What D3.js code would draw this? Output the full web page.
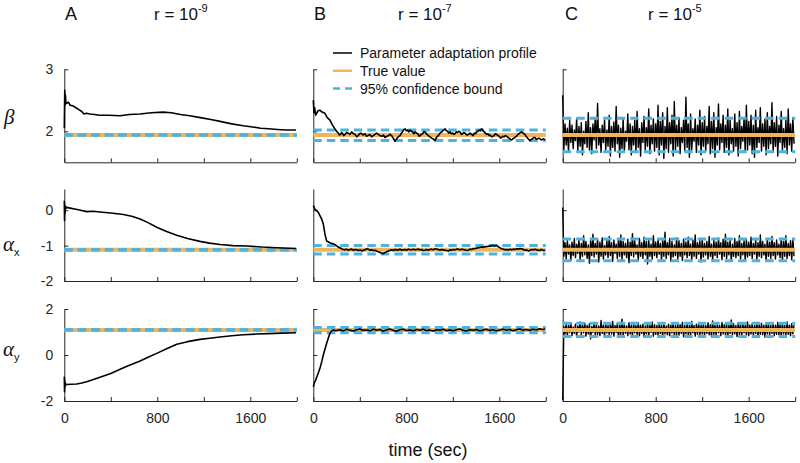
<!DOCTYPE html>
<html>
<head>
<meta charset="utf-8">
<script src="https://cdn.jsdelivr.net/npm/d3@7"></script>
<style>
  body { margin: 0; background: #fff; }
  svg { display: block; }
</style>
</head>
<body>
<div id="chart"></div>
<script>
// ---- data ----
const panelLetters = ['A', 'B', 'C'];
const rExponents = ['-9', '-7', '-5'];
const timeTicks = [0, 400, 800, 1200, 1600, 2000];
const timeLabelled = [0, 800, 1600];

const yDomains = [[1.5, 3], [-2, 0.6], [-2, 2]];
const yTicks = [[2, 3], [-2, -1, 0], [-2, 0, 2]];

const trueValues = [1.94, -1.12, 1.09];
// [lower, upper] 95% bound per column A, B, C
const boundsBeta = [[1.935, 1.945], [1.85, 2.02], [1.67, 2.21]];
const boundsAlphaX = [[-1.125, -1.115], [-1.24, -1.0], [-1.43, -0.81]];
const boundsAlphaY = [[1.085, 1.095], [0.97, 1.20], [0.80, 1.38]];

// column A, r = 1e-9  ([time, value])
const profileA_beta = [[0,2.05],[2,2.40],[4,2.66],[7,2.42],[10,2.58],[14,2.46],[20,2.45],[35,2.47],[50,2.42],[75,2.41],[100,2.38],[125,2.35],[150,2.32],[170,2.28],[190,2.29],[220,2.28],[260,2.27],[300,2.26],[380,2.26],[480,2.25],[560,2.27],[650,2.28],[750,2.30],[850,2.31],[920,2.30],[1000,2.27],[1080,2.25],[1170,2.22],[1260,2.19],[1340,2.16],[1440,2.12],[1540,2.09],[1620,2.07],[1690,2.05],[1760,2.04],[1830,2.03],[1910,2.02],[1993,2.02]];
const profileA_alphaX = [[0,0.27],[2,-0.29],[4,0.15],[6,-0.10],[9,0.12],[14,0.05],[20,0.08],[50,0.06],[100,0.03],[150,-0.01],[193,-0.04],[250,-0.03],[307,-0.05],[400,-0.08],[508,-0.12],[580,-0.17],[652,-0.25],[720,-0.35],[795,-0.48],[880,-0.60],[967,-0.71],[1060,-0.80],[1167,-0.88],[1250,-0.93],[1340,-0.97],[1450,-1.00],[1570,-1.01],[1700,-1.04],[1827,-1.06],[1993,-1.08]];
const profileA_alphaY = [[0,-0.94],[2,-1.60],[4,-1.10],[6,-1.40],[9,-1.22],[14,-1.30],[20,-1.28],[60,-1.27],[106,-1.26],[150,-1.22],[193,-1.16],[250,-1.07],[307,-0.97],[400,-0.80],[480,-0.62],[560,-0.45],[652,-0.26],[720,-0.10],[795,0.07],[880,0.27],[967,0.47],[1060,0.58],[1167,0.68],[1250,0.73],[1340,0.78],[1440,0.84],[1540,0.88],[1650,0.91],[1750,0.93],[1870,0.95],[1993,0.97]];

// column B, r = 1e-7
const profileB_beta = [[0,2.50],[6,2.30],[12,2.38],[20,2.26],[29,2.29],[40,2.33],[57,2.34],[75,2.31],[100,2.29],[120,2.22],[143,2.18],[165,2.10],[186,2.04],[200,2.00],[215,1.97],[225,1.94],[235,1.95],[243,1.98],[250,1.97],[262,1.93],[273,1.95],[286,1.98],[300,1.97],[315,1.95],[330,1.99],[345,1.96],[360,1.95],[373,1.91],[387,1.93],[398,1.96],[410,1.97],[428,1.94],[445,1.96],[458,1.92],[470,1.93],[486,1.95],[502,1.91],[516,1.93],[530,1.95],[545,1.97],[559,1.95],[575,1.93],[590,1.92],[603,1.94],[617,1.90],[632,1.92],[645,1.93],[660,1.95],[674,1.93],[690,1.88],[703,1.84],[714,1.87],[725,1.90],[736,1.92],[746,1.93],[758,1.97],[770,2.00],[780,2.03],[789,2.04],[800,2.01],[810,2.02],[822,1.99],[832,2.02],[845,2.00],[855,1.99],[865,1.96],[875,1.99],[888,1.97],[900,1.96],[910,1.92],[918,1.93],[930,1.95],[940,1.96],[950,1.99],[961,1.99],[973,1.96],[985,1.94],[995,1.92],[1004,1.91],[1018,1.89],[1030,1.88],[1040,1.86],[1047,1.85],[1054,1.88],[1060,1.90],[1068,1.92],[1076,1.93],[1090,1.97],[1105,1.99],[1120,2.02],[1133,2.04],[1145,2.01],[1155,2.00],[1165,1.97],[1176,1.99],[1188,1.96],[1200,1.97],[1210,1.95],[1219,1.96],[1230,1.99],[1240,1.98],[1250,2.00],[1262,1.99],[1274,1.95],[1285,1.96],[1295,1.98],[1305,1.97],[1320,1.94],[1335,1.95],[1348,1.97],[1362,1.95],[1374,1.93],[1385,1.97],[1395,1.96],[1405,1.99],[1415,2.00],[1425,2.02],[1437,2.01],[1448,2.04],[1460,2.01],[1470,1.99],[1480,1.97],[1491,1.95],[1502,1.96],[1512,1.93],[1522,1.94],[1534,1.91],[1545,1.92],[1555,1.93],[1566,1.96],[1577,1.95],[1588,1.93],[1600,1.92],[1610,1.89],[1620,1.90],[1630,1.92],[1640,1.91],[1652,1.93],[1663,1.92],[1674,1.90],[1685,1.89],[1696,1.87],[1706,1.86],[1717,1.88],[1728,1.89],[1738,1.91],[1749,1.92],[1760,1.95],[1770,1.96],[1781,1.98],[1792,1.99],[1805,1.97],[1813,1.96],[1821,1.95],[1830,1.92],[1840,1.90],[1852,1.87],[1864,1.85],[1875,1.87],[1885,1.88],[1896,1.90],[1907,1.90],[1918,1.87],[1930,1.88],[1940,1.89],[1950,1.88],[1960,1.86],[1970,1.87],[1982,1.88],[1993,1.86]];
const profileB_alphaX = [[0,0.13],[14,0.03],[29,-0.01],[43,-0.06],[57,-0.15],[72,-0.25],[86,-0.39],[100,-0.67],[115,-0.87],[143,-0.92],[186,-0.97],[215,-1.04],[244,-1.09],[258,-1.11],[270,-1.12],[285,-1.10],[301,-1.13],[315,-1.11],[330,-1.10],[345,-1.13],[359,-1.11],[375,-1.12],[390,-1.14],[403,-1.12],[416,-1.15],[430,-1.13],[445,-1.12],[460,-1.09],[473,-1.10],[487,-1.13],[500,-1.12],[515,-1.14],[531,-1.13],[548,-1.16],[565,-1.18],[585,-1.21],[602,-1.23],[614,-1.20],[625,-1.19],[635,-1.16],[645,-1.15],[660,-1.13],[675,-1.12],[690,-1.14],[703,-1.11],[716,-1.12],[730,-1.13],[745,-1.10],[760,-1.13],[775,-1.12],[790,-1.11],[803,-1.13],[817,-1.10],[830,-1.11],[845,-1.12],[860,-1.10],[875,-1.12],[890,-1.11],[905,-1.10],[918,-1.12],[932,-1.11],[946,-1.14],[960,-1.13],[975,-1.11],[989,-1.13],[1003,-1.11],[1018,-1.10],[1032,-1.12],[1047,-1.09],[1060,-1.10],[1075,-1.11],[1090,-1.13],[1104,-1.11],[1118,-1.12],[1133,-1.13],[1148,-1.14],[1162,-1.15],[1176,-1.12],[1190,-1.13],[1205,-1.11],[1219,-1.12],[1233,-1.10],[1248,-1.10],[1262,-1.12],[1276,-1.10],[1290,-1.11],[1305,-1.12],[1320,-1.14],[1333,-1.13],[1348,-1.10],[1362,-1.11],[1376,-1.08],[1391,-1.09],[1405,-1.07],[1420,-1.06],[1434,-1.05],[1448,-1.04],[1460,-1.05],[1470,-1.03],[1480,-1.04],[1491,-1.02],[1502,-1.03],[1512,-1.01],[1523,-1.02],[1534,-1.00],[1545,-0.99],[1555,-1.01],[1566,-1.00],[1577,-0.99],[1588,-1.02],[1600,-1.05],[1610,-1.07],[1620,-1.09],[1635,-1.10],[1650,-1.12],[1663,-1.11],[1677,-1.13],[1690,-1.10],[1705,-1.12],[1720,-1.10],[1735,-1.11],[1750,-1.09],[1765,-1.10],[1778,-1.08],[1792,-1.09],[1806,-1.11],[1820,-1.13],[1835,-1.12],[1849,-1.15],[1865,-1.13],[1880,-1.11],[1893,-1.12],[1907,-1.10],[1918,-1.12],[1930,-1.12],[1940,-1.14],[1950,-1.13],[1960,-1.11],[1970,-1.12],[1982,-1.14],[1993,-1.13]];
const profileB_alphaY = [[0,-1.38],[10,-1.20],[20,-1.10],[29,-0.97],[43,-0.78],[57,-0.58],[72,-0.30],[86,0.00],[100,0.25],[115,0.51],[130,0.75],[143,0.94],[158,1.05],[172,1.09],[186,1.07],[200,1.06],[215,1.09],[229,1.10],[243,1.07],[258,1.05],[272,1.08],[287,1.12],[300,1.10],[315,1.08],[330,1.06],[344,1.04],[358,1.07],[372,1.10],[386,1.11],[400,1.13],[415,1.10],[430,1.07],[445,1.08],[459,1.09],[473,1.07],[488,1.05],[502,1.09],[516,1.12],[530,1.10],[545,1.08],[560,1.10],[573,1.11],[588,1.07],[602,1.04],[616,1.07],[630,1.09],[645,1.11],[659,1.13],[673,1.10],[688,1.07],[702,1.05],[716,1.03],[730,1.07],[745,1.10],[760,1.11],[774,1.12],[788,1.09],[802,1.06],[816,1.08],[831,1.09],[845,1.07],[860,1.05],[874,1.08],[888,1.11],[902,1.10],[917,1.08],[931,1.10],[946,1.12],[960,1.09],[974,1.06],[989,1.08],[1003,1.09],[1017,1.06],[1032,1.04],[1046,1.07],[1060,1.10],[1075,1.09],[1089,1.08],[1103,1.10],[1118,1.12],[1132,1.09],[1146,1.06],[1160,1.08],[1175,1.09],[1190,1.07],[1204,1.05],[1218,1.08],[1232,1.10],[1246,1.12],[1261,1.13],[1275,1.10],[1290,1.08],[1304,1.06],[1318,1.05],[1332,1.08],[1347,1.10],[1361,1.09],[1376,1.07],[1390,1.09],[1404,1.11],[1418,1.08],[1433,1.06],[1447,1.07],[1462,1.09],[1476,1.11],[1490,1.12],[1505,1.09],[1519,1.07],[1533,1.09],[1548,1.10],[1562,1.07],[1576,1.05],[1590,1.07],[1605,1.09],[1620,1.11],[1634,1.12],[1648,1.10],[1662,1.08],[1676,1.10],[1691,1.11],[1705,1.08],[1720,1.06],[1734,1.08],[1748,1.10],[1762,1.12],[1777,1.13],[1791,1.10],[1806,1.08],[1820,1.10],[1834,1.11],[1848,1.09],[1863,1.07],[1877,1.10],[1892,1.12],[1906,1.10],[1920,1.09],[1935,1.12],[1949,1.14],[1963,1.12],[1978,1.11],[1993,1.13]];

// column C, r = 1e-5: one sample every stepC seconds
const stepC = 10;
const profileC_beta = [
  2.58,1.70,2.12,1.78,2.05,1.66,2.18,1.82,2.10,1.72,2.02,1.85,2.20,1.68,2.08,1.76,2.14,1.62,2.00,1.80,
  2.16,1.74,2.30,1.70,2.06,1.64,2.12,1.86,2.22,1.72,2.45,1.78,2.04,1.66,2.10,1.82,2.18,1.70,2.02,1.76,
  2.26,1.60,2.08,1.74,2.15,1.68,2.40,1.80,2.10,1.58,2.05,1.72,2.20,1.66,2.00,1.84,2.28,1.70,2.12,1.62,
  2.08,1.78,2.18,1.66,2.32,1.74,2.04,1.60,2.14,1.82,2.24,1.70,2.06,1.76,2.36,1.64,2.10,1.80,2.20,1.68,
  2.12,1.74,2.42,1.62,2.16,1.78,2.30,1.56,2.08,1.72,2.38,1.66,2.14,1.80,2.26,1.60,2.48,1.70,2.10,1.76,
  2.22,1.64,2.06,1.82,2.18,1.68,2.55,1.74,2.12,1.58,2.28,1.70,2.04,1.84,2.20,1.66,2.10,1.78,2.34,1.62,
  2.14,1.76,2.24,1.68,2.08,1.80,2.40,1.64,2.16,1.72,2.30,1.58,2.06,1.78,2.44,1.70,2.12,1.82,2.26,1.66,
  2.10,1.74,2.36,1.62,2.18,1.80,2.04,1.68,2.28,1.76,2.14,1.60,2.32,1.72,2.08,1.84,2.22,1.66,2.42,1.70,
  2.16,1.78,2.26,1.64,2.10,1.58,2.34,1.74,2.06,1.82,2.38,1.68,2.12,1.76,2.20,1.62,2.30,1.72,2.08,1.80,
  2.46,1.66,2.14,1.76,2.24,1.60,2.10,1.82,2.32,1.70,2.04,1.74,2.18,1.64,2.36,1.78,2.12,1.68,2.22,1.80
];
const profileC_alphaX = [
  0.08,-1.30,-0.92,-1.38,-0.86,-1.24,-0.98,-1.42,-0.90,-1.28,-0.80,-1.34,-0.96,-1.22,-0.84,-1.40,-0.94,-1.30,-0.72,-1.26,
  -0.88,-1.36,-0.98,-1.50,-0.86,-1.28,-0.68,-1.32,-0.94,-1.24,-0.82,-1.46,-0.90,-1.30,-0.78,-1.38,-1.00,-1.26,-0.86,-1.34,
  -0.74,-1.28,-0.92,-1.44,-0.84,-1.22,-0.96,-1.36,-0.80,-1.30,-0.70,-1.40,-0.88,-1.26,-0.94,-1.34,-0.82,-1.48,-0.90,-1.28,
  -0.66,-1.32,-0.86,-1.24,-0.98,-1.42,-0.80,-1.30,-0.92,-1.36,-0.76,-1.26,-0.88,-1.52,-0.84,-1.30,-0.96,-1.38,-0.72,-1.28,
  -0.90,-1.34,-0.82,-1.24,-0.94,-1.40,-0.86,-1.30,-0.62,-1.36,-0.92,-1.26,-0.80,-1.44,-0.88,-1.32,-0.98,-1.28,-0.78,-1.38,
  -0.86,-1.30,-0.94,-1.42,-0.82,-1.26,-0.90,-1.34,-0.76,-1.28,-0.96,-1.40,-0.84,-1.30,-0.70,-1.36,-0.92,-1.24,-0.86,-1.46,
  -0.80,-1.32,-0.94,-1.26,-0.88,-1.38,-0.74,-1.30,-0.96,-1.42,-0.84,-1.28,-0.90,-1.34,-0.78,-1.24,-0.92,-1.40,-0.82,-1.30,
  -0.68,-1.36,-0.90,-1.26,-0.84,-1.44,-0.96,-1.30,-0.80,-1.34,-0.88,-1.28,-0.72,-1.38,-0.94,-1.26,-0.86,-1.42,-0.82,-1.32,
  -0.90,-1.28,-0.76,-1.36,-0.94,-1.24,-0.84,-1.40,-0.92,-1.30,-0.70,-1.34,-0.88,-1.26,-0.96,-1.44,-0.80,-1.30,-0.90,-1.36,
  -0.74,-1.28,-0.92,-1.38,-0.84,-1.26,-0.96,-1.34,-0.80,-1.42,-0.88,-1.30,-0.72,-1.36,-0.94,-1.28,-0.86,-1.40,-0.82,-1.30
];
const profileC_alphaY = [
  -1.95,1.24,0.92,1.36,0.86,1.28,0.98,1.40,0.84,1.22,0.94,1.34,0.80,1.26,1.00,1.44,0.88,1.30,0.96,1.38,
  0.82,1.28,0.92,1.36,0.70,1.24,0.98,1.42,0.86,1.32,0.90,1.26,0.84,1.50,0.94,1.30,0.80,1.36,0.96,1.28,
  0.88,1.34,0.92,1.46,0.82,1.28,0.98,1.38,0.76,1.30,0.90,1.56,0.86,1.32,0.94,1.26,0.84,1.40,0.92,1.30,
  0.80,1.36,0.96,1.28,0.88,1.42,0.84,1.30,0.94,1.34,0.78,1.26,0.92,1.38,0.86,1.30,0.98,1.44,0.82,1.32,
  0.90,1.28,0.86,1.36,0.94,1.30,0.80,1.40,0.92,1.26,0.88,1.34,0.84,1.30,0.96,1.38,0.82,1.28,0.90,1.36,
  0.86,1.32,0.94,1.42,0.80,1.28,0.92,1.36,0.88,1.30,0.84,1.46,0.96,1.28,0.82,1.34,0.90,1.38,0.86,1.30,
  0.92,1.36,0.84,1.28,0.94,1.40,0.88,1.32,0.80,1.48,0.90,1.30,0.86,1.36,0.96,1.28,0.84,1.42,0.92,1.32,
  0.88,1.34,0.82,1.30,0.94,1.52,0.86,1.36,0.92,1.28,0.80,1.40,0.90,1.32,0.84,1.36,0.96,1.30,0.88,1.44,
  0.84,1.30,0.92,1.36,0.86,1.28,0.94,1.42,0.82,1.32,0.90,1.38,0.88,1.30,0.78,1.34,0.92,1.40,0.86,1.28,
  0.94,1.36,0.84,1.30,0.90,1.42,0.88,1.32,0.82,1.38,0.92,1.28,0.86,1.44,0.90,1.30,0.84,1.36,0.92,1.30
];

const legendLabels = ['Parameter adaptation profile', 'True value', '95% confidence bound'];

// ---- layout ----
const width = 800, height = 463;
const colLeft = [64.3, 313.3, 562.7];
const plotW = 232.5;
const rowTop = [69.3, 189, 309];
const rowBottom = [162.3, 281, 401];

const black = '#000', orange = '#f2b45a', blue = '#4db3dc', axisColor = '#262626';
const sans = '"Liberation Sans", Arial, Helvetica, sans-serif';
const serif = '"Liberation Serif", "Times New Roman", serif';

const svg = d3.select('#chart').append('svg')
    .attr('width', width)
    .attr('height', height)
    .style('font-family', sans);

const toPairs = vals => vals.map((v, i) => [i * stepC, v]);
const profiles = [
    [profileA_beta, profileB_beta, toPairs(profileC_beta)],
    [profileA_alphaX, profileB_alphaX, toPairs(profileC_alphaX)],
    [profileA_alphaY, profileB_alphaY, toPairs(profileC_alphaY)]
];
const bounds = [boundsBeta, boundsAlphaX, boundsAlphaY];

function drawPanel(ci, ri) {
    const x = d3.scaleLinear().domain([0, 2000]).range([colLeft[ci], colLeft[ci] + plotW]);
    const y = d3.scaleLinear().domain(yDomains[ri]).range([rowBottom[ri], rowTop[ri]]);
    const g = svg.append('g');

    const xAxis = d3.axisBottom(x)
        .tickValues(timeTicks)
        .tickSize(-4)
        .tickSizeOuter(0)
        .tickPadding(12)
        .tickFormat(d => (ri === 2 && timeLabelled.includes(d)) ? String(d) : '');
    const yAxis = d3.axisLeft(y)
        .tickValues(yTicks[ri])
        .tickSize(-4)
        .tickSizeOuter(0)
        .tickPadding(11)
        .tickFormat(d => ci === 0 ? String(d) : '');

    [g.append('g').attr('transform', `translate(0,${rowBottom[ri]})`).call(xAxis),
     g.append('g').attr('transform', `translate(${colLeft[ci]},0)`).call(yAxis)]
        .forEach(a => {
            a.attr('font-family', sans).attr('font-size', 14);
            a.selectAll('path, line').attr('stroke', axisColor).attr('stroke-width', 1);
            a.selectAll('text').attr('fill', axisColor);
        });

    const line = d3.line().x(d => x(d[0])).y(d => y(d[1]));
    const flat = v => [[0, v], [2000, v]];

    const drawTrue = () => g.append('path').attr('d', line(flat(trueValues[ri])))
        .attr('fill', 'none').attr('stroke', orange).attr('stroke-width', 4);
    const drawBounds = () => bounds[ri][ci].forEach(b => g.append('path').attr('d', line(flat(b)))
        .attr('fill', 'none').attr('stroke', blue).attr('stroke-width', 3)
        .attr('stroke-dasharray', '8.5,5'));
    const drawProfile = () => g.append('path').attr('d', line(profiles[ri][ci]))
        .attr('fill', 'none').attr('stroke', black)
        .attr('stroke-width', ci === 2 ? 1.4 : 1.6).attr('stroke-linejoin', 'round');

    if (ci === 2) { drawProfile(); drawTrue(); drawBounds(); }
    else { drawTrue(); drawBounds(); drawProfile(); }
}

for (let ri = 0; ri < 3; ri++) {
    for (let ci = 0; ci < 3; ci++) drawPanel(ci, ri);
}

// column titles
const titleX = [[65, 154], [314, 398], [565, 648]];
panelLetters.forEach((letter, ci) => {
    svg.append('text').attr('x', titleX[ci][0]).attr('y', 20)
        .attr('font-size', 18).attr('fill', '#111').text(letter);
    const t = svg.append('text').attr('x', titleX[ci][1]).attr('y', 20)
        .attr('font-size', 17).attr('fill', '#111');
    t.append('tspan').text('r = 10');
    t.append('tspan').attr('dy', -8).attr('font-size', 11).text(rExponents[ci]);
});

// row labels
svg.append('text').attr('x', 4).attr('y', 124)
    .attr('font-family', serif).attr('font-style', 'italic').attr('font-size', 21)
    .attr('fill', '#111').text('β');
[['x', 251], ['y', 356]].forEach(([sub, yy]) => {
    const t = svg.append('text').attr('x', 3).attr('y', yy)
        .attr('font-family', serif).attr('font-style', 'italic').attr('font-size', 21)
        .attr('fill', '#111');
    t.append('tspan').text('α');
    t.append('tspan').attr('dy', 5).attr('font-family', sans).attr('font-style', 'normal')
        .attr('font-size', 11).text(sub);
});

// x label
svg.append('text').attr('x', 428).attr('y', 456).attr('text-anchor', 'middle')
    .attr('font-size', 18).attr('fill', '#111').text('time (sec)');

// legend
const legend = svg.append('g').attr('transform', 'translate(333,53)');
const legendStyles = [
    { stroke: black, w: 1.5, dash: null },
    { stroke: orange, w: 2.5, dash: null },
    { stroke: blue, w: 2.5, dash: '7,5' }
];
legendLabels.forEach((label, i) => {
    const row = legend.append('g').attr('transform', `translate(0,${i * 17.8})`);
    row.append('line').attr('x1', 0).attr('x2', 19).attr('y1', 0).attr('y2', 0)
        .attr('stroke', legendStyles[i].stroke).attr('stroke-width', legendStyles[i].w)
        .attr('stroke-dasharray', legendStyles[i].dash);
    row.append('text').attr('x', 27).attr('y', 5).attr('font-size', 14)
        .attr('fill', '#111').text(label);
});
</script>
</body>
</html>
